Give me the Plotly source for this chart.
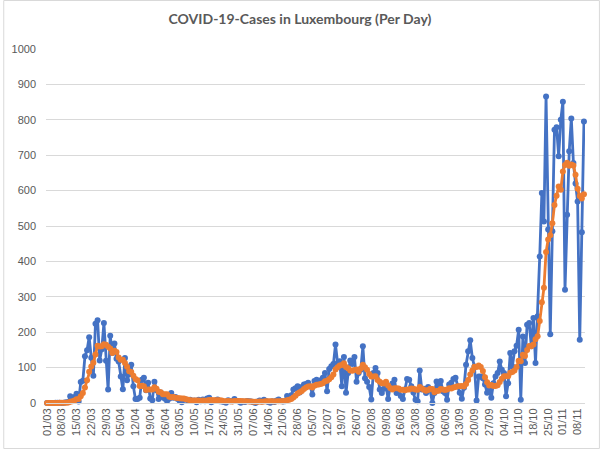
import plotly.graph_objects as go
from datetime import date, timedelta

START = date(2020, 3, 1)

# Daily new cases, one list per month
cases_mar = [0, 0, 0, 0, 1, 1, 1, 0, 1, 2, 2, 19, 8, 17, 26, 4, 59, 63, 132, 149, 186, 128, 77, 224, 234, 120, 152, 226, 119, 38, 190]
cases_apr = [141, 168, 125, 117, 75, 39, 127, 64, 81, 108, 47, 11, 11, 15, 66, 71, 36, 57, 13, 8, 60, 36, 11, 30, 16, 12, 6, 12, 28, 15]
cases_may = [17, 11, 6, 2, 11, 10, 6, 9, 6, 7, 2, 9, 5, 10, 5, 13, 15, 2, 5, 7, 10, 5, 4, 3, 1, 8, 5, 5, 11, 6, 4]
cases_jun = [1, 4, 3, 6, 5, 4, 2, 0, 4, 7, 4, 9, 6, 3, 1, 5, 3, 7, 10, 6, 4, 5, 20, 14, 22, 38, 42, 47, 30, 45]
cases_jul = [52, 54, 57, 47, 24, 62, 66, 57, 64, 71, 85, 33, 96, 104, 110, 165, 113, 118, 47, 130, 29, 85, 120, 110, 130, 60, 85, 94, 160, 70, 60]
cases_aug = [45, 10, 85, 99, 85, 38, 28, 40, 47, 11, 47, 55, 66, 28, 35, 20, 11, 38, 68, 66, 47, 30, 9, 5, 92, 38, 40, 28, 45, 35, 0]
cases_sep = [28, 61, 47, 62, 33, 28, 9, 52, 57, 68, 71, 47, 29, 12, 43, 108, 146, 177, 127, 103, 7, 75, 75, 70, 52, 29, 38, 15, 56, 75]
cases_oct = [85, 117, 94, 85, 19, 56, 141, 103, 146, 162, 207, 9, 188, 113, 221, 226, 160, 240, 113, 245, 414, 593, 513, 866, 490, 194, 485, 772, 779, 697, 800]
cases_nov = [851, 320, 532, 711, 804, 678, 620, 569, 179, 482, 795]

# 7-day average line, one list per month
avg_mar = [0, 0, 0, 0, 0.1, 0.3, 0.4, 0.4, 0.6, 0.9, 1.1, 3.7, 4.7, 7.0, 10.7, 11.1, 19.3, 28.0, 44.1, 64.3, 88.4, 103.0, 113.4, 137.0, 161.4, 159.7, 160.1, 165.9, 164.6, 159.0, 154.1]
avg_apr = [140.9, 147.7, 143.9, 128.3, 122.0, 122.1, 113.1, 102.1, 89.7, 87.3, 77.3, 68.1, 64.1, 48.1, 48.4, 47.0, 36.7, 38.1, 38.4, 38.0, 44.4, 40.1, 31.6, 30.7, 24.9, 24.7, 24.4, 17.6, 16.4, 17.0]
avg_may = [15.1, 14.4, 13.6, 13.0, 12.9, 10.3, 9.0, 7.9, 7.1, 7.3, 7.3, 7.0, 6.3, 6.9, 6.3, 7.3, 8.4, 8.4, 7.9, 8.1, 8.1, 8.1, 6.9, 5.1, 5.0, 5.4, 5.1, 4.4, 5.3, 5.6, 5.7]
avg_jun = [5.7, 5.1, 4.9, 5.0, 4.1, 3.9, 3.6, 3.4, 3.4, 4.0, 3.7, 4.3, 4.6, 4.7, 4.9, 5.0, 4.4, 4.9, 5.0, 5.0, 5.1, 5.7, 7.9, 9.4, 11.6, 15.6, 20.7, 26.9, 30.4, 34.0]
avg_jul = [39.4, 44.0, 46.7, 47.4, 44.1, 48.7, 51.7, 52.4, 53.9, 55.9, 61.3, 62.6, 67.4, 72.9, 80.4, 94.9, 100.9, 105.6, 107.6, 112.4, 101.7, 98.1, 91.7, 91.3, 93.0, 94.9, 88.4, 97.7, 108.4, 101.3, 94.1]
avg_aug = [82.0, 74.9, 74.9, 75.6, 64.9, 60.3, 55.7, 55.0, 60.3, 49.7, 42.3, 38.0, 42.0, 42.0, 41.3, 37.4, 37.4, 36.1, 38.0, 38.0, 40.7, 40.0, 38.4, 37.6, 45.3, 41.0, 37.3, 34.6, 36.7, 40.4, 39.7]
avg_sep = [30.6, 33.9, 34.9, 39.7, 38.0, 37.0, 38.3, 41.7, 41.1, 44.1, 45.4, 47.4, 47.6, 48.0, 46.7, 54.0, 65.1, 80.3, 91.7, 102.3, 101.6, 106.1, 101.4, 90.6, 72.7, 58.7, 49.4, 50.6, 47.9, 47.9]
avg_oct = [50.0, 59.3, 68.6, 75.3, 75.9, 75.9, 85.3, 87.9, 92.0, 101.7, 119.1, 117.7, 136.6, 132.6, 149.4, 160.9, 160.6, 165.3, 180.1, 188.3, 231.3, 284.4, 325.4, 426.3, 462.0, 473.6, 507.9, 559.0, 585.6, 611.9, 602.4]
avg_nov = [654.0, 672.0, 678.7, 670.0, 673.6, 670.9, 645.1, 604.9, 584.7, 577.6, 589.6]

tick_labels = ["01/03", "08/03", "15/03", "22/03", "29/03", "05/04", "12/04", "19/04", "26/04",
               "03/05", "10/05", "17/05", "24/05", "31/05", "07/06", "14/06", "21/06", "28/06",
               "05/07", "12/07", "19/07", "26/07", "02/08", "09/08", "16/08", "23/08", "30/08",
               "06/09", "13/09", "20/09", "27/09", "04/10", "11/10", "18/10", "25/10", "01/11", "08/11"]

TITLE = "COVID-19-Cases in Luxembourg (Per Day)"

cases = cases_mar + cases_apr + cases_may + cases_jun + cases_jul + cases_aug + cases_sep + cases_oct + cases_nov
avg = avg_mar + avg_apr + avg_may + avg_jun + avg_jul + avg_aug + avg_sep + avg_oct + avg_nov
days = [(START + timedelta(days=i)).strftime("%d/%m") for i in range(len(cases))]

W, H = 600, 449
ML, MR, MT, MB = 43, 15, 49, 46
PW, PH = W - ML - MR, H - MT - MB

BLUE = "#4472C4"
ORANGE = "#ED7D31"
GRID = "#D9D9D9"
TXT = "#595959"

fig = go.Figure()
fig.add_trace(go.Scatter(
    x=days, y=cases, mode="lines+markers", name="Cases",
    line=dict(color=BLUE, width=2.8),
    marker=dict(size=6, color=BLUE),
    cliponaxis=False, showlegend=False,
))
fig.add_trace(go.Scatter(
    x=days, y=avg, mode="lines+markers", name="7-day average",
    line=dict(color=ORANGE, width=2.8),
    marker=dict(size=6, color=ORANGE),
    cliponaxis=False, showlegend=False,
))

fig.update_layout(
    width=W, height=H,
    margin=dict(l=ML, r=MR, t=MT, b=MB),
    paper_bgcolor="white", plot_bgcolor="white",
    title=dict(text="<b>" + TITLE + "</b>", x=0.5, xanchor="center",
               y=1 - 19 / H, yanchor="middle",
               font=dict(family="Lato", size=14, color=TXT)),
    xaxis=dict(type="category", range=[-0.5, len(days) - 0.5],
               tickmode="array", tickvals=tick_labels, ticktext=tick_labels,
               tickangle=-90, showgrid=False, zeroline=False,
               showline=True, linecolor=GRID, linewidth=1, ticks="",
               tickfont=dict(family="Liberation Sans", size=11, color=TXT)),
    yaxis=dict(range=[0, 1000], tick0=0, dtick=100, showgrid=True,
               gridcolor=GRID, gridwidth=1, zeroline=False, showline=False,
               ticks="", ticklabelstandoff=9,
               tickfont=dict(family="Liberation Sans", size=11, color=TXT)),
    shapes=[dict(type="rect", xref="paper", yref="paper",
                 x0=(0.5 - ML) / PW, x1=(W - 0.5 - ML) / PW,
                 y0=-(MB - 0.5) / PH, y1=1 + (MT - 0.5) / PH,
                 line=dict(color=GRID, width=1), layer="below")],
    hovermode=False,
)

fig.write_html(
    "out.html",
    config={"displayModeBar": False},
    post_script="document.body.style.margin='0';document.body.style.overflow='hidden';",
)
